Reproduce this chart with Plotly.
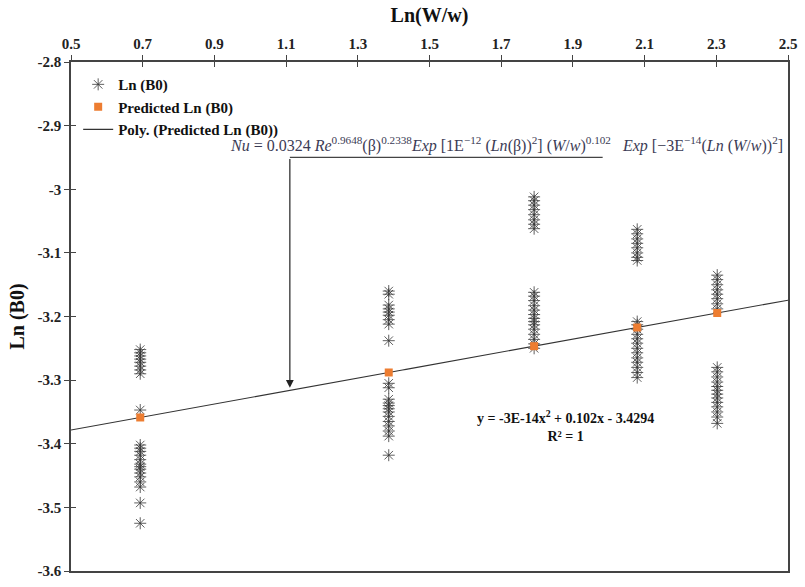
import numpy as np
import plotly.graph_objects as go

# Measured Ln(B0) values grouped by Ln(W/w)
ln_ratio = [0.6931, 1.3863, 1.7918, 2.0794, 2.3026]
measured = [
    [-3.252, -3.257, -3.262, -3.267, -3.272, -3.278, -3.284, -3.290, -3.347,
     -3.402, -3.407, -3.412, -3.418, -3.425, -3.432, -3.436, -3.440, -3.446,
     -3.452, -3.460, -3.468, -3.493, -3.525],
    [-3.160, -3.165, -3.182, -3.188, -3.193, -3.198, -3.205, -3.212, -3.238,
     -3.305, -3.312, -3.330, -3.336, -3.340, -3.345, -3.350, -3.357, -3.365,
     -3.372, -3.380, -3.388, -3.418],
    [-3.012, -3.018, -3.025, -3.032, -3.040, -3.048, -3.055, -3.062,
     -3.162, -3.168, -3.175, -3.183, -3.190, -3.197, -3.203, -3.208, -3.213,
     -3.220, -3.228, -3.236, -3.243, -3.250],
    [-3.063, -3.070, -3.078, -3.085, -3.092, -3.100, -3.107, -3.112,
     -3.208, -3.213, -3.220, -3.228, -3.235, -3.242, -3.250, -3.257, -3.265,
     -3.272, -3.280, -3.288, -3.296],
    [-3.135, -3.142, -3.150, -3.158, -3.165, -3.172, -3.180, -3.188,
     -3.280, -3.287, -3.295, -3.303, -3.310, -3.316, -3.322, -3.328, -3.335,
     -3.342, -3.350, -3.358, -3.368],
]
# Quadratic trendline coefficients (a*x^2 + b*x + c)
poly_coef = [-3e-14, 0.102, -3.4294]
x_ticks = [0.5, 0.7, 0.9, 1.1, 1.3, 1.5, 1.7, 1.9, 2.1, 2.3, 2.5]
y_ticks = [-2.8, -2.9, -3.0, -3.1, -3.2, -3.3, -3.4, -3.5, -3.6]
y_tick_text = ["-2.8", "-2.9", "-3", "-3.1", "-3.2", "-3.3", "-3.4", "-3.5", "-3.6"]

predicted = [np.polyval(poly_coef, v) for v in ln_ratio]

xs, ys = [], []
for v, group in zip(ln_ratio, measured):
    xs += [v] * len(group)
    ys += group

x_fit = np.linspace(0.5, 2.5, 200)
y_fit = np.polyval(poly_coef, x_fit)

FONT = "Liberation Serif"
STAR = "rgba(55,55,55,0.8)"

fig = go.Figure()
fig.add_trace(go.Scatter(
    x=xs, y=ys, mode="markers", name="Ln (B0)", legendrank=1,
    marker=dict(symbol="asterisk-open", size=10, color=STAR,
                line=dict(width=1, color=STAR)),
))
fig.add_trace(go.Scatter(
    x=x_fit, y=y_fit, mode="lines", name="Poly. (Predicted Ln (B0))", legendrank=3,
    line=dict(color="#333333", width=1.1),
))
fig.add_trace(go.Scatter(
    x=ln_ratio, y=predicted, mode="markers", name="Predicted Ln (B0)", legendrank=2,
    marker=dict(symbol="square", size=8, color="#ED7D31"),
))
# Invisible trace on the overlaid axes so their inner ticks are drawn
fig.add_trace(go.Scatter(x=[1.5], y=[-3.2], xaxis="x2", yaxis="y2",
                         mode="markers", marker=dict(opacity=0),
                         showlegend=False, hoverinfo="skip"))

tickfont = dict(family=FONT, size=15, color="#222", weight="bold")

fig.update_layout(
    width=805, height=587,
    margin=dict(l=71, r=10, t=62, b=8),
    paper_bgcolor="white", plot_bgcolor="white",
    showlegend=True,
    legend=dict(x=0.01, y=0.988, xanchor="left", yanchor="top",
                font=dict(family=FONT, size=15, color="#111", weight="bold"),
                bgcolor="rgba(0,0,0,0)", tracegroupgap=0, itemwidth=30),
    xaxis=dict(side="top", range=[0.5, 2.5], tickvals=x_ticks,
               ticktext=[f"{t:.1f}" for t in x_ticks],
               ticks="outside", ticklen=5, tickcolor="#444",
               showline=True, linecolor="#444", linewidth=1.5, mirror=True,
               showgrid=False, zeroline=False, tickfont=tickfont,
               title=dict(text="Ln(W/w)", standoff=8,
                          font=dict(family=FONT, size=20, color="#111", weight="bold"))),
    yaxis=dict(range=[-3.6, -2.8], tickvals=y_ticks, ticktext=y_tick_text,
               ticks="outside", ticklen=5, tickcolor="#444",
               showline=True, linecolor="#444", linewidth=1.5, mirror=True,
               showgrid=False, zeroline=False, tickfont=tickfont,
               title=dict(text="Ln (B0)", standoff=8,
                          font=dict(family=FONT, size=20, color="#111", weight="bold"))),
    xaxis2=dict(overlaying="x", side="top", range=[0.5, 2.5], tickvals=x_ticks,
                ticks="inside", ticklen=5, tickcolor="#444", showticklabels=False,
                showgrid=False, zeroline=False, showline=False),
    yaxis2=dict(overlaying="y", side="left", range=[-3.6, -2.8], tickvals=y_ticks,
                ticks="inside", ticklen=5, tickcolor="#444", showticklabels=False,
                showgrid=False, zeroline=False, showline=False),
)

# Correlation equation with an arrow pointing to the trendline
eq = ("<i>Nu</i> = 0.0324 <i>Re</i><sup>0.9648</sup>(β)<sup>0.2338</sup>"
      "<i>Exp</i> [1E<sup>−12</sup> (<i>Ln</i>(β))<sup>2</sup>] "
      "(<i>W</i>/<i>w</i>)<sup>0.102</sup>   "
      "<i>Exp</i> [−3E<sup>−14</sup>(<i>Ln</i> (<i>W</i>/<i>w</i>))<sup>2</sup>]")
fig.add_annotation(x=1.715, y=-2.929, xref="x", yref="y", text=eq, showarrow=False,
                   font=dict(family=FONT, size=16, color="#3b3b55"))

arrow_x = 1.1105
fig.add_shape(type="line", xref="x", yref="y", x0=arrow_x, x1=1.983,
              y0=-2.950, y1=-2.950, line=dict(color="#444", width=1.2))
fig.add_annotation(x=arrow_x, y=np.polyval(poly_coef, arrow_x) + 0.004,
                   ax=arrow_x, ay=-2.950, xref="x", yref="y", axref="x", ayref="y",
                   text="", showarrow=True, arrowhead=2, arrowsize=1.3,
                   arrowwidth=1.2, arrowcolor="#222")

fig.add_annotation(x=1.88, y=-3.372, xref="x", yref="y", showarrow=False,
                   text="y = -3E-14x<sup>2</sup> + 0.102x - 3.4294<br>R² = 1",
                   align="center",
                   font=dict(family=FONT, size=14, color="#111", weight="bold"))

fig.write_html("out.html")
